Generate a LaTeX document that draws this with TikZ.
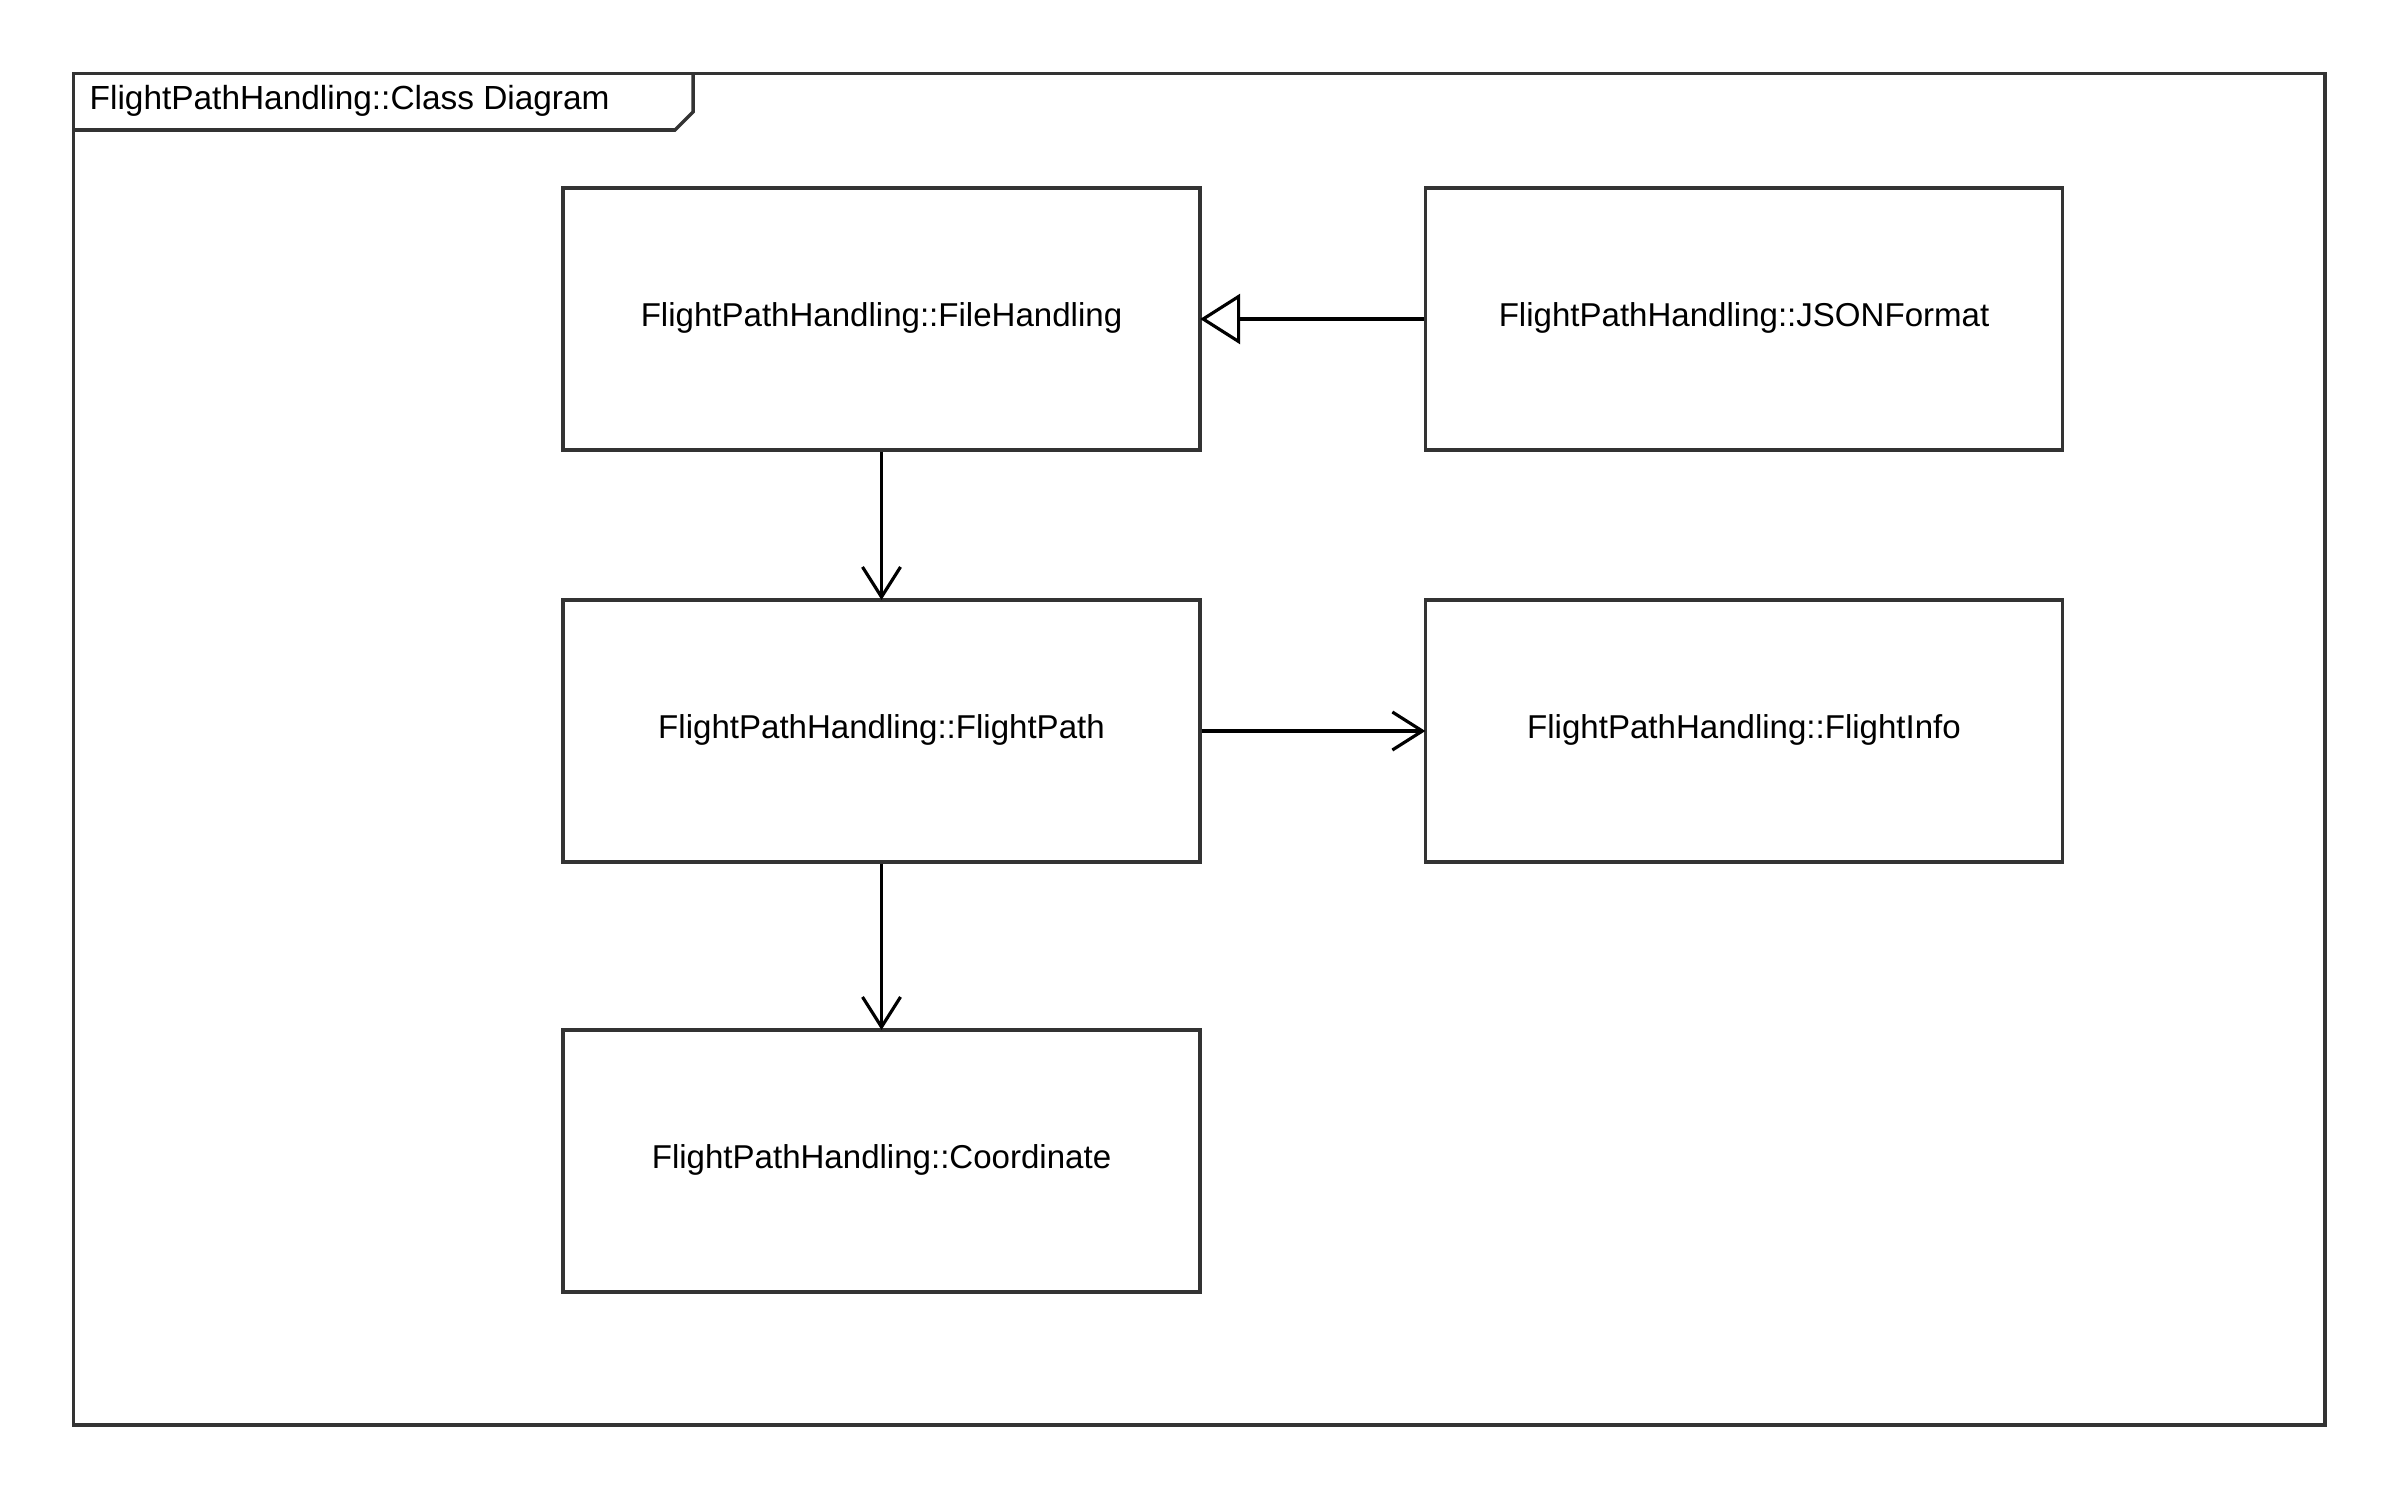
\documentclass[tikz,border=0pt]{standalone}
\usepackage{fontspec}
\setmainfont{Liberation Sans}
\usetikzlibrary{arrows.meta,positioning}
\definecolor{framegray}{HTML}{333333}
\tikzset{
    classbox/.style={draw=framegray,line width=1pt,fill=white,minimum width=6.37cm,minimum height=2.62cm,inner sep=0pt,font=\fontsize{9.4}{11}\selectfont,text depth=0.45ex},
    assoc/.style={draw=black,line width=0.9pt,shorten >=-0.5pt,-{Straight Barb[length=3mm,width=3.8mm,line width=0.9pt]}},
    generalize/.style={draw=black,line width=0.9pt,shorten >=-0.5pt,-{Triangle[open,length=4mm,width=5mm,line width=0.9pt,fill=white]}}
}

\begin{document}
\begin{tikzpicture}[x=0.01cm, y=-0.01cm]
    \useasboundingbox (0,0) rectangle (2400,1500);

%frame
    \draw[framegray,line width=1pt] (73.5,73.5) rectangle (2325,1425);
    \draw[framegray,line width=1pt] (73.5,130) -- (675,130) -- (693,112) -- (693,73.5);
    \node[anchor=west,inner sep=0pt,font=\fontsize{9.5}{11}\selectfont] (title) at (89,101) {FlightPathHandling::Class Diagram};

%classes
    \node[classbox] (filehandling) at (881.5,319) {FlightPathHandling::FileHandling};
    \node[classbox] (jsonformat) at (1744,319) {FlightPathHandling::JSONFormat};
    \node[classbox] (flightpath) at (881.5,731) {FlightPathHandling::FlightPath};
    \node[classbox] (flightinfo) at (1744,731) {FlightPathHandling::FlightInfo};
    \node[classbox] (coordinate) at (881.5,1161) {FlightPathHandling::Coordinate};

%relations
    \draw[generalize] (jsonformat) -- (filehandling);
    \draw[assoc] (filehandling) -- (flightpath);
    \draw[assoc] (flightpath) -- (flightinfo);
    \draw[assoc] (flightpath) -- (coordinate);

\end{tikzpicture}
\end{document}
